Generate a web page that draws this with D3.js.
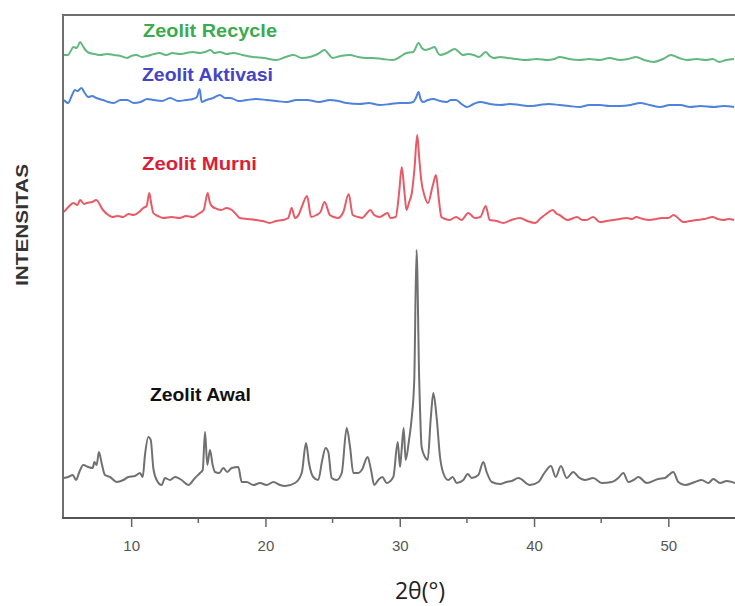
<!DOCTYPE html>
<html>
<head>
<meta charset="utf-8">
<script src="https://cdn.jsdelivr.net/npm/d3@7"></script>
<style>
  html, body { margin: 0; padding: 0; background: #fff; }
  svg { display: block; }
</style>
</head>
<body>
<svg id="chart" width="735" height="606"></svg>
<script>
// ---- DATA (2θ in degrees, intensity in arbitrary units, stacked with offsets already included) ----
const seriesNames = ["Zeolit Awal", "Zeolit Murni", "Zeolit Aktivasi", "Zeolit Recycle"];

const awal = [
  [5.0,40],[5.3,41],[5.65,43],[5.9,38],[6.14,46],[6.44,53],[6.81,51],[7.14,50],[7.26,56],[7.43,53],
  [7.6,66],[7.8,55],[8.05,43],[8.43,41],[8.92,36],[9.42,38],[9.79,41],[10.29,42],[10.66,45],[10.86,41],
  [11.03,63],[11.28,81],[11.46,78],[11.65,50],[11.9,38],[12.27,33],[12.52,40],[12.89,38],[13.27,41],
  [13.76,38],[14.26,33],[14.75,40],[15.13,45],[15.33,48],[15.5,86],[15.67,53],[15.87,68],[16.07,53],
  [16.24,46],[16.56,45],[16.86,50],[17.16,46],[17.49,50],[17.98,51],[18.23,36],[18.6,36],[19.1,33],
  [19.6,35],[20.09,33],[20.59,36],[21.08,33],[21.46,32],[22.2,35],[22.7,45],[23.02,75],[23.24,55],
  [23.56,41],[23.93,38],[24.23,58],[24.48,70],[24.68,66],[24.93,40],[25.3,38],[25.68,45],[26.05,90],
  [26.3,71],[26.54,45],[26.91,45],[27.17,48],[27.61,61],[27.86,48],[28.1,33],[28.4,38],[28.7,41],
  [29.03,35],[29.52,41],[29.85,76],[30.02,51],[30.14,68],[30.29,90],[30.44,58],[30.69,78],[30.89,100],
  [31.08,138],[31.25,268],[31.45,138],[31.63,71],[31.88,61],[32.08,58],[32.3,98],[32.5,125],[32.75,100],
  [33.0,61],[33.24,45],[33.61,38],[33.94,41],[34.24,35],[34.73,38],[35.06,44],[35.36,40],[35.85,43],
  [36.22,56],[36.47,46],[36.85,36],[37.46,34],[37.96,36],[38.34,37],[38.83,40],[39.7,33],[40.32,36],
  [40.77,45],[41.26,52],[41.61,41],[42.0,52],[42.43,40],[42.92,46],[43.3,41],[43.79,38],[44.41,40],
  [45.04,35],[45.78,36],[46.27,40],[46.65,45],[47.02,36],[47.4,38],[47.77,41],[48.39,35],[49.25,39],
  [49.75,40],[50.37,46],[50.74,36],[51.24,33],[51.98,36],[52.48,38],[52.98,35],[53.35,39],[53.85,35],
  [54.34,37],[54.96,35]
];

const murni = [
  [5.0,306],[5.4,312],[5.7,315],[6.0,313],[6.2,318],[6.5,314],[6.7,315],[7.1,316],[7.4,318],[7.9,308],
  [8.3,303],[8.6,301],[9.0,302],[9.4,301],[9.8,304],[10.2,303],[10.6,306],[10.9,310],[11.15,312],
  [11.35,325],[11.5,314],[11.65,305],[12.0,302],[12.4,300],[13.0,301],[13.6,300],[14.1,302],[14.6,301],
  [15.0,304],[15.4,308],[15.7,325],[15.85,316],[16.0,312],[16.4,309],[16.7,308],[17.1,310],[17.5,308],
  [17.8,304],[18.1,300],[18.7,299],[19.3,298],[19.8,297],[20.3,295],[20.8,297],[21.3,298],[21.7,300],
  [21.95,310],[22.2,300],[22.5,304],[22.7,311],[23.1,322],[23.4,301],[23.8,303],[24.1,306],[24.4,316],
  [24.8,303],[25.1,301],[25.4,300],[25.8,306],[26.2,324],[26.5,303],[26.9,301],[27.2,300],[27.5,304],
  [27.8,308],[28.1,303],[28.5,301],[28.8,303],[29.1,305],[29.3,300],[29.7,301],[29.95,325],[30.15,351],
  [30.35,326],[30.5,308],[30.7,316],[30.9,325],[31.1,350],[31.3,383],[31.45,360],[31.6,338],[31.85,322],
  [32.1,315],[32.45,332],[32.7,343],[32.9,320],[33.1,301],[33.4,299],[33.7,298],[34.2,301],[34.6,298],
  [35.1,305],[35.6,300],[36.0,301],[36.4,312],[36.7,298],[37.2,297],[37.7,295],[38.3,298],[38.95,300],
  [39.5,297],[40.1,295],[40.5,300],[40.8,303],[41.1,306],[41.4,308],[41.7,304],[41.9,303],[42.2,300],
  [42.5,298],[43.2,301],[43.6,298],[43.9,298],[44.4,301],[44.9,296],[45.4,297],[45.9,298],[46.4,299],
  [46.9,300],[47.3,299],[47.6,301],[48.1,299],[48.6,298],[49.1,299],[49.5,300],[50.0,300],[50.4,303],
  [50.8,299],[51.1,296],[51.6,297],[52.1,298],[52.7,299],[53.3,301],[53.7,299],[54.1,298],[54.5,299],[54.9,298]
];

const aktivasi = [
  [5.0,418],[5.3,415],[5.6,423],[5.8,428],[6.0,427],[6.3,430],[6.5,426],[6.8,421],[7.1,422],[7.4,420],
  [7.9,418],[8.3,416],[8.7,415],[9.2,418],[9.7,418],[10.2,415],[10.7,416],[11.2,419],[11.65,418],
  [12.3,417],[12.9,420],[13.5,417],[14.1,418],[14.6,419],[14.9,421],[15.1,429],[15.25,416],[15.6,418],
  [16.1,420],[16.6,423],[17.0,420],[17.4,420],[18.0,417],[18.6,418],[19.3,419],[20.1,418],[20.8,417],
  [21.6,416],[22.3,418],[23.1,418],[24.0,416],[24.8,418],[25.4,417],[26.05,415],[27.0,414],[27.7,415],
  [28.5,413],[29.3,414],[30.0,415],[30.6,415],[31.0,416],[31.2,420],[31.4,426],[31.55,419],[31.75,416],
  [32.1,418],[32.5,419],[33.0,417],[33.5,416],[33.8,418],[34.2,418],[34.6,414],[35.0,411],[35.5,414],
  [36.0,416],[36.7,414],[37.5,413],[38.2,414],[38.95,413],[39.7,412],[40.4,413],[41.1,414],[41.9,413],
  [42.6,412],[43.4,411],[44.1,413],[44.9,413],[45.6,412],[46.4,412],[47.2,413],[47.9,415],[48.6,413],
  [49.4,411],[50.1,413],[50.9,413],[51.6,411],[52.4,412],[53.4,411],[54.1,412],[54.9,411]
];

const recycle = [
  [5.0,463],[5.3,463],[5.5,467],[5.7,471],[5.95,470],[6.2,476],[6.4,472],[6.6,468],[6.9,465],
  [7.3,464],[7.7,463],[8.2,464],[8.7,463],[9.2,462],[9.7,460],[10.0,462],[10.4,463],[10.8,461],
  [11.2,462],[11.7,464],[12.1,465],[12.6,463],[13.1,465],[13.6,464],[14.1,465],[14.6,466],[15.1,465],
  [15.5,466],[15.9,468],[16.2,465],[16.6,466],[17.1,464],[17.6,465],[18.3,463],[19.1,461],[19.9,460],
  [20.8,458],[21.5,461],[22.1,463],[22.7,460],[23.3,461],[23.9,464],[24.4,468],[24.7,464],[25.0,460],
  [25.6,462],[26.3,463],[26.9,461],[27.5,460],[28.0,460],[28.7,459],[29.5,458],[30.0,461],[30.5,465],
  [31.0,466],[31.4,475],[31.65,470],[31.9,468],[32.2,469],[32.6,471],[32.8,466],[33.0,463],[33.5,465],
  [34.1,469],[34.4,466],[34.7,463],[35.1,464],[35.5,463],[35.9,461],[36.4,466],[36.7,462],[37.0,460],
  [37.5,461],[38.0,460],[38.7,459],[39.4,458],[40.2,459],[41.0,458],[41.5,459],[41.9,461],[42.6,459],
  [43.4,458],[44.1,459],[44.9,458],[45.6,460],[46.4,458],[47.0,459],[47.6,461],[48.2,458],[48.9,456],
  [49.6,459],[50.2,463],[50.8,460],[51.4,458],[52.1,459],[52.8,458],[53.3,459],[53.8,456],[54.3,458],[54.9,459]
];

const xMajorTicks = [10, 20, 30, 40, 50];
const xMinorTicks = [15, 25, 35, 45];
const xDomain = [5, 55];
const yDomain = [0, 503];

// ---- STYLE / LAYOUT ----
const lineColors = ["#707070", "#e85a66", "#4f82dc", "#62b87f"];
const labelColors = ["#111111", "#d91e3a", "#4444c4", "#3aab4e"];
const labelCenter = [[200.5, 401], [199.5, 170], [207.5, 81], [210, 37]];
const labelSize = [19, 19, 18, 18];
const labelWidth = [101, 115, 131, 134];

const svg = d3.select("#chart");
const mLeft = 64, mRight = 735.5, mTop = 15, mBottom = 518;

const x = d3.scaleLinear().domain(xDomain).range([mLeft, mRight]);
const y = d3.scaleLinear().domain(yDomain).range([mBottom, mTop]);

const line = d3.line().x(d => x(d[0])).y(d => y(d[1])).curve(d3.curveMonotoneX);

const allSeries = [awal, murni, aktivasi, recycle];

allSeries.forEach((s, i) => {
  svg.append("path")
    .datum(s)
    .attr("fill", "none")
    .attr("stroke", lineColors[i])
    .attr("stroke-width", 2)
    .attr("stroke-linejoin", "round")
    .attr("d", line);
});

// frame: left and top
svg.append("line").attr("x1", mLeft - 1).attr("x2", mLeft - 1).attr("y1", mTop).attr("y2", mBottom)
  .attr("stroke", "#707070").attr("stroke-width", 2);
svg.append("line").attr("x1", mLeft - 2).attr("x2", 735).attr("y1", mTop).attr("y2", mTop)
  .attr("stroke", "#707070").attr("stroke-width", 2);

// bottom axis
const axisG = svg.append("g").attr("transform", `translate(0,${mBottom})`);
axisG.call(d3.axisBottom(x).tickValues(xMajorTicks).tickSize(9).tickPadding(13).tickFormat(d3.format("d")));
axisG.select(".domain").attr("stroke", "#555").attr("stroke-width", 2).attr("d", `M${mLeft - 2},0H${mRight + 5}`);
axisG.selectAll(".tick line").attr("stroke", "#666").attr("stroke-width", 1.5);
axisG.selectAll(".tick text")
  .attr("fill", "#555")
  .style("font-family", "'Liberation Sans', Arial, sans-serif")
  .style("font-size", "15px");

const minorG = svg.append("g").attr("transform", `translate(0,${mBottom})`);
minorG.selectAll("line").data(xMinorTicks).enter().append("line")
  .attr("x1", d => x(d)).attr("x2", d => x(d)).attr("y1", 0).attr("y2", 5)
  .attr("stroke", "#666").attr("stroke-width", 1.5);

// series labels
seriesNames.forEach((n, i) => {
  svg.append("text")
    .attr("x", labelCenter[i][0] - labelWidth[i] / 2).attr("y", labelCenter[i][1])
    .attr("textLength", labelWidth[i])
    .attr("lengthAdjust", "spacingAndGlyphs")
    .attr("fill", labelColors[i])
    .style("font-family", "'Liberation Sans', Arial, sans-serif")
    .style("font-weight", "bold")
    .style("font-size", labelSize[i] + "px")
    .text(n);
});

// axis titles
svg.append("text")
  .attr("transform", "translate(28,286) rotate(-90)")
  .attr("textLength", 122)
  .attr("lengthAdjust", "spacingAndGlyphs")
  .attr("fill", "#333")
  .style("font-family", "'Liberation Sans', Arial, sans-serif")
  .style("font-weight", "bold")
  .style("font-size", "16px")
  .text("INTENSITAS");

svg.append("text")
  .attr("x", 420).attr("y", 599)
  .attr("text-anchor", "middle")
  .attr("fill", "#222")
  .style("font-family", "'Open Sans', 'Liberation Sans', sans-serif")
  .style("font-size", "23px")
  .text("2θ(°)");
</script>
</body>
</html>
